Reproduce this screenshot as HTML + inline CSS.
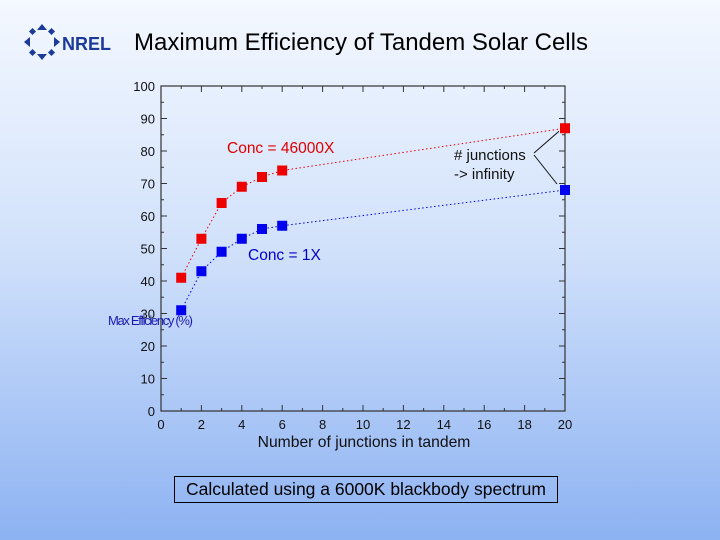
<!DOCTYPE html>
<html><head><meta charset="utf-8"><style>
html,body{margin:0;padding:0;}
body{width:720px;height:540px;overflow:hidden;background:linear-gradient(to bottom,#f4f8ff 0%,#d2e2fb 45%,#8db2f2 100%);font-family:"Liberation Sans",sans-serif;position:relative;}
</style></head><body>
<svg style="position:absolute;left:22px;top:22px" width="98" height="40">
<g fill="#1b3a9a">
<polygon points="20,2 25,8 15,8"/><polygon points="20,38 25,32 15,32"/>
<polygon points="2,20 8,15 8,25"/><polygon points="38,20 32,15 32,25"/>
<rect x="8" y="7" width="5" height="5" transform="rotate(45 10.5 9.5)"/><rect x="27" y="7" width="5" height="5" transform="rotate(45 29.5 9.5)"/>
<rect x="8" y="28" width="5" height="5" transform="rotate(45 10.5 30.5)"/><rect x="27" y="28" width="5" height="5" transform="rotate(45 29.5 30.5)"/>
</g>
<text x="40" y="28" font-size="18" font-weight="bold" fill="#1b3a9a" font-family="Liberation Sans, sans-serif">NREL</text>
</svg>
<div style="position:absolute;left:134px;top:29px;font-size:24px;color:#000">Maximum Efficiency of Tandem Solar Cells</div>
<svg id="chart" style="position:absolute;left:0;top:0" width="720" height="540"></svg>
<div style="position:absolute;left:174px;top:476px;width:384px;height:27px;border:1px solid #000;box-sizing:border-box;font-size:17.5px;line-height:25px;text-align:center;color:#000;white-space:nowrap">Calculated using a 6000K blackbody spectrum</div>
<script>
const junctions=[1,2,3,4,5,6,20];
const concHigh=[41,53,64,69,72,74,87];
const concLow=[31,43,49,53,56,57,68];
const xTicks=[0,2,4,6,8,10,12,14,16,18,20];
const yTicks=[0,10,20,30,40,50,60,70,80,90,100];
const NS="http://www.w3.org/2000/svg";
const svg=document.getElementById('chart');
const X0=161,X1=565,Y0=411,Y1=86;
const sx=v=>X0+(v-0)/(20-0)*(X1-X0);
const sy=v=>Y0-(v-0)/(100-0)*(Y0-Y1);
function mk(t,a){const e=document.createElementNS(NS,t);for(const k in a)e.setAttribute(k,a[k]);svg.appendChild(e);return e;}
const frame=mk('rect',{x:X0,y:Y1,width:X1-X0,height:Y0-Y1,fill:'none',stroke:'#333','stroke-width':1.2});


for(let v=0;v<=20;v+=1){const len=v%2===0?6:3;
 const t1=mk('line',{x1:sx(v),x2:sx(v),y1:Y0,y2:Y0-len,stroke:'#333'});
 
 
 const t2=mk('line',{x1:sx(v),x2:sx(v),y1:Y1,y2:Y1+len,stroke:'#333'});
 
 }
for(let v=0;v<=100;v+=5){const len=v%10===0?6:3;
 const t1=mk('line',{x1:X0,x2:X0+len,y1:sy(v),y2:sy(v),stroke:'#333'});
 
 
 const t2=mk('line',{x1:X1,x2:X1-len,y1:sy(v),y2:sy(v),stroke:'#333'});
 
 }
xTicks.forEach(v=>{const t=mk('text',{x:sx(v),y:Y0+18,'text-anchor':'middle','font-size':13,fill:'#111'});t.textContent=v;
 
 });
yTicks.forEach(v=>{const t=mk('text',{x:X0-6,y:sy(v)+5,'text-anchor':'end','font-size':13,fill:'#111'});t.textContent=v;
 
 });
const xt=mk('text',{x:364,y:447,'text-anchor':'middle','font-size':15.7,fill:'#111'});xt.textContent='Number of junctions in tandem';


const yt=mk('text',{x:108,y:325,'font-size':13,fill:'#1a1ab0','textLength':85});yt.textContent='Max Efficiency (%)';


function series(vals,color,name){
 const pts=junctions.map((j,i)=>sx(j)+','+sy(vals[i])).join(' ');
 const l=mk('polyline',{points:pts,fill:'none',stroke:color,'stroke-width':1,'stroke-dasharray':'1.5,2.5'});
 
 
 junctions.forEach((j,i)=>{const r=mk('rect',{x:sx(j)-5,y:sy(vals[i])-5,width:10,height:10,fill:color});
  
  });
}
series(concHigh,'#ee0000','conc-46000x');
series(concLow,'#0000ee','conc-1x');
const l1=mk('text',{x:227,y:153,'font-size':15.5,fill:'#e00000'});l1.textContent='Conc = 46000X';


const l2=mk('text',{x:248,y:260,'font-size':15.5,fill:'#0000cc'});l2.textContent='Conc = 1X';


const a1=mk('text',{x:454,y:160,'font-size':15,fill:'#111'});a1.textContent='# junctions';


const a2=mk('text',{x:454,y:179,'font-size':15,fill:'#111'});a2.textContent='-> infinity';


const ar1=mk('line',{x1:534,y1:153,x2:sx(20)-6,y2:sy(concHigh[6])+3,stroke:'#111'});


const ar2=mk('line',{x1:534,y1:155,x2:sx(20)-8,y2:sy(concLow[6])-6,stroke:'#111'});


</script>
</body></html>
